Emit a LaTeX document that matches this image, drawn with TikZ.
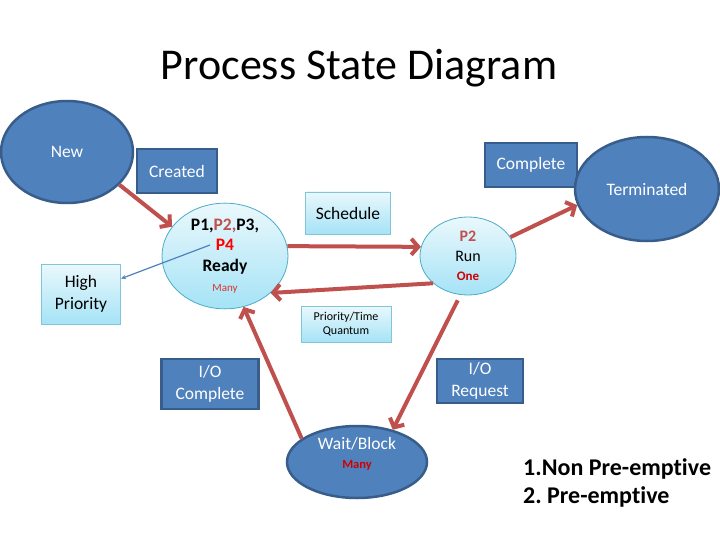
\documentclass[tikz,border=0pt]{standalone}
\usepackage{fontspec}
\setmainfont{Carlito}[Ligatures=CommonOff]
\usetikzlibrary{shapes.geometric,arrows.meta}
\definecolor{dkblue}{HTML}{4F81BD}
\definecolor{dkborder}{HTML}{385D8A}
\definecolor{arrowred}{HTML}{C0504D}
\definecolor{ltborder}{HTML}{4BACC6}
\definecolor{lttop}{HTML}{EAF8FC}
\definecolor{ltbot}{HTML}{A5E3F6}
\definecolor{txtred}{HTML}{D00000}
\frenchspacing
\begin{document}
\begin{tikzpicture}[x=1pt,y=-1pt,
 base/.style={font=\fontsize{17.5}{22}\selectfont, align=center, inner sep=0pt},
 darkell/.style={base, ellipse, draw=dkborder, line width=2.5pt, fill=dkblue, text=white},
 darkbox/.style={base, rectangle, draw=dkborder, line width=2.5pt, fill=dkblue, text=white},
 lightbox/.style={base, rectangle, draw=ltborder!70, line width=0.8pt, top color=lttop, bottom color=ltbot},
 lightell/.style={base, ellipse, draw=ltborder, line width=0.8pt, top color=lttop, bottom color=ltbot},
 flow/.style={draw=arrowred, line width=4pt, -{Straight Barb[length=7pt,width=16pt]}},
]
\useasboundingbox[fill=white] (0,0) rectangle (720,540);
\node[font=\fontsize{44}{50}\selectfont] (title) at (359,68) {Process State Diagram};
\node[darkell, minimum width=132, minimum height=102] (new) at (67,152) {New};
\node[darkbox, minimum width=80, minimum height=44] (created) at (177,171) {Created};
\node[darkbox, minimum width=92, minimum height=44] (complete) at (531,165) {Complete};
\node[darkell, minimum width=144, minimum height=104] (term) at (647,189) {Terminated};
\node[lightell, minimum width=126, minimum height=102, font=\fontsize{17.5}{20.5}\selectfont] (ready) at (225,256)
  {\textbf{P1,\textcolor{arrowred}{P2,}P3,}\\ \textbf{\textcolor{red}{P4}}\\ \textbf{Ready}\\ {\fontsize{11}{13}\selectfont\textcolor{txtred!80}{Many}}};
\node[lightbox, minimum width=79, minimum height=60] (hp) at (81,294) {High\\Priority};
\node[lightbox, minimum width=85, minimum height=42] (sched) at (348,213) {Schedule};
\node[lightell, minimum width=96, minimum height=78, font=\fontsize{16}{19.5}\selectfont] (run) at (468,256)
  {\textbf{\textcolor{arrowred}{P2}}\\Run\\{\fontsize{13}{15}\selectfont\bfseries\textcolor{txtred}{One}}};
\node[lightbox, minimum width=90, minimum height=36, font=\fontsize{12}{14}\selectfont] (prio) at (346,324) {Priority/Time\\Quantum};
\node[darkbox, minimum width=97, minimum height=50] (ioc) at (210,384) {I/O\\Complete};
\node[darkbox, minimum width=86, minimum height=44] (ior) at (480,381) {I/O\\Request};
\node[darkell, minimum width=140, minimum height=72] (wait) at (357,462) {};
\node[base, text=white, font=\fontsize{17.5}{19}\selectfont] (waitlbl) at (357,454)
  {Wait/Block\\{\fontsize{12.5}{14}\selectfont\bfseries\textcolor{txtred}{Many}}};
\node[base, align=left, anchor=west, font=\fontsize{24}{28}\selectfont\bfseries] (types) at (523,483)
  {1.Non Pre-emptive\\2. Pre-emptive};
\draw[flow] (new.-32) -- (ready.151);
\draw[flow] (ready.9) -- (run.169);
\draw[flow] (run.24) -- (term.193);
\draw[flow] (run.218) -- (ready.-39);
\draw[flow, shorten <=6pt] (run.-101) -- (wait.42);
\draw[flow] (wait.157) -- (ready.-70);
\coordinate (hpstart) at (210,245);
\draw[draw=dkblue, line width=1.2pt, -{Stealth[length=5pt,width=4pt]}] (hpstart) -- (hp.21);
\end{tikzpicture}
\end{document}
